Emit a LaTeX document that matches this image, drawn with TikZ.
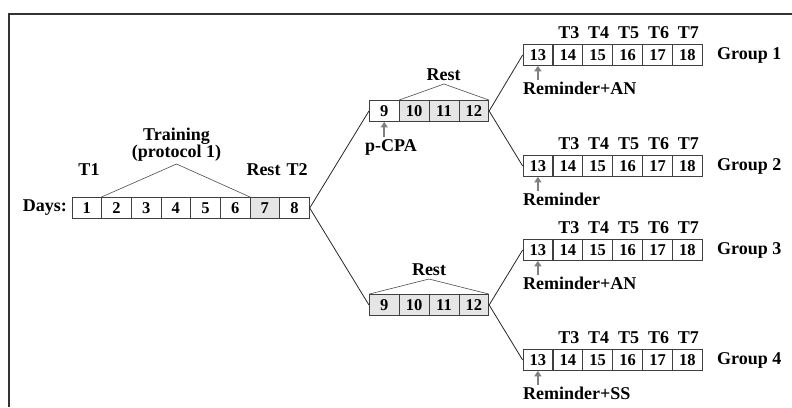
\documentclass[tikz,border=0pt]{standalone}
\usepackage{fontspec}
\setmainfont{Liberation Serif}
\usetikzlibrary{arrows.meta}
\tikzset{
  cell/.style={draw=black!75, line width=0.7pt, minimum width=29.8pt, minimum height=21pt, inner sep=0pt, font=\fontsize{16.5}{17}\selectfont\bfseries},
  restcell/.style={cell, fill=black!10},
  lbl/.style={font=\fontsize{18}{17}\selectfont\bfseries, inner sep=1pt},
  link/.style={black!85, line width=0.8pt},
  roof/.style={black!70, line width=0.6pt},
  cue/.style={-{Triangle[length=5.5pt,width=7pt]}, draw=black!50, line width=2.4pt}
}
\begin{document}
\begin{tikzpicture}[x=1pt,y=-1pt]
  \useasboundingbox (0,0) rectangle (792,407);
  \draw[black!80, line width=1.3pt] (9,407) -- (9,14) -- (792,14);
  % days 1-8
  \foreach \i/\s in {1/cell,2/cell,3/cell,4/cell,5/cell,6/cell,7/restcell,8/cell}
    \node[\s] (d\i) at ({86.83+(\i-1)*29.66},208) {\i};
  \node[lbl, anchor=east] (days) at (68,208) {Days:};
  \node[lbl] (t1) at (89,170) {T1};
  \node[lbl] (rest0) at (263.5,170) {Rest};
  \node[lbl] (t2) at (297,170) {T2};
  \coordinate (train) at (176.5,164);
  \draw[roof] (d2.north west) -- (train) -- (d6.north east);
  \node[lbl, align=center] (trainlbl) at (176.5,145) {Training\\(protocol 1)};
  % days 9-12, p-CPA
  \foreach \i/\s [count=\k] in {9/cell,10/restcell,11/restcell,12/restcell}
    \node[\s] (a\i) at ({384.2+(\k-1)*29.9},111) {\i};
  \coordinate (resta) at (444,84);
  \draw[roof] (a10.north west) -- (resta) -- (a12.north east);
  \node[lbl] (restalbl) at (443.5,75) {Rest};
  \coordinate (cuea) at ([yshift=-15pt]a9.south);
  \draw[cue] (cuea) -- (a9.south);
  \node[lbl] (pcpa) at (391,147) {p-CPA};
  % days 9-12, rest only
  \foreach \i [count=\k] in {9,...,12}
    \node[restcell] (b\i) at ({384.2+(\k-1)*29.9},305) {\i};
  \coordinate (restb) at (429,279);
  \draw[roof] (b9.north west) -- (restb) -- (b12.north east);
  \node[lbl] (restblbl) at (429,270) {Rest};
  % groups
  \foreach \g/\c/\r in {1/55/Reminder+AN,2/166/Reminder,3/250/Reminder+AN,4/360/Reminder+SS} {
    \foreach \i [count=\k] in {13,...,18}
      \node[cell] (g\g-\i) at ({537.9+(\k-1)*29.9},\c) {\i};
    \foreach \t [count=\k] in {3,...,7}
      \node[lbl] (t\g-\t) at ({538.9+\k*29.9},\c-22) {T\t};
    \node[lbl, anchor=west] (grp\g) at (716,\c) {Group \g};
    \coordinate (cue\g) at ([yshift=-14pt]g\g-13.south);
    \draw[cue] (cue\g) -- (g\g-13.south);
    \node[lbl, anchor=west] (rem\g) at (522,\c+33) {\r};
  }
  % links
  \draw[link] (d8.east) -- (a9.west);
  \draw[link] (d8.east) -- (b9.west);
  \draw[link] (a12.east) -- (g1-13.west);
  \draw[link] (a12.east) -- (g2-13.west);
  \draw[link] (b12.east) -- (g3-13.west);
  \draw[link] (b12.east) -- (g4-13.west);
\end{tikzpicture}
\end{document}
